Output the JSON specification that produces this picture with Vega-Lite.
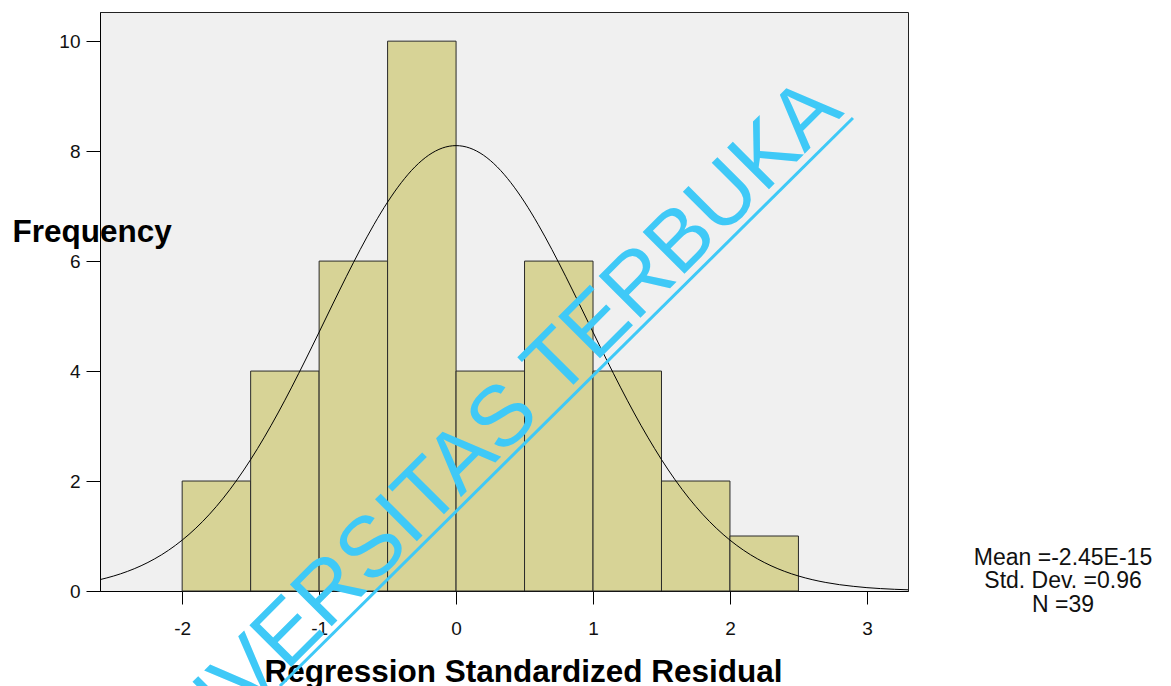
{
  "$schema": "https://vega.github.io/schema/vega-lite/v6.json",
  "width": 808,
  "height": 579,
  "autosize": "none",
  "padding": {"left": 100, "top": 12, "right": 263, "bottom": 95},
  "background": "white",
  "config": {
    "font": "Liberation Sans",
    "view": {"fill": "#F0F0F0", "stroke": "#222222", "strokeWidth": 1}
  },
  "datasets": {
    "bins": [
      {"bin_start": -2.0, "bin_end": -1.5, "count": 2},
      {"bin_start": -1.5, "bin_end": -1.0, "count": 4},
      {"bin_start": -1.0, "bin_end": -0.5, "count": 6},
      {"bin_start": -0.5, "bin_end": 0.0, "count": 10},
      {"bin_start": 0.0, "bin_end": 0.5, "count": 4},
      {"bin_start": 0.5, "bin_end": 1.0, "count": 6},
      {"bin_start": 1.0, "bin_end": 1.5, "count": 4},
      {"bin_start": 1.5, "bin_end": 2.0, "count": 2},
      {"bin_start": 2.0, "bin_end": 2.5, "count": 1}
    ],
    "curve": [
      {"residual": -2.6, "freq": 0.207}, {"residual": -2.5, "freq": 0.273}, {"residual": -2.4, "freq": 0.356},
      {"residual": -2.3, "freq": 0.459}, {"residual": -2.2, "freq": 0.586}, {"residual": -2.1, "freq": 0.740},
      {"residual": -2.0, "freq": 0.925}, {"residual": -1.9, "freq": 1.143}, {"residual": -1.8, "freq": 1.397},
      {"residual": -1.7, "freq": 1.689}, {"residual": -1.6, "freq": 2.020}, {"residual": -1.5, "freq": 2.390},
      {"residual": -1.4, "freq": 2.797}, {"residual": -1.3, "freq": 3.238}, {"residual": -1.2, "freq": 3.708},
      {"residual": -1.1, "freq": 4.201}, {"residual": -1.0, "freq": 4.708}, {"residual": -0.9, "freq": 5.220},
      {"residual": -0.8, "freq": 5.724}, {"residual": -0.7, "freq": 6.209}, {"residual": -0.6, "freq": 6.663},
      {"residual": -0.5, "freq": 7.073}, {"residual": -0.4, "freq": 7.426}, {"residual": -0.3, "freq": 7.714},
      {"residual": -0.2, "freq": 7.926}, {"residual": -0.1, "freq": 8.056}, {"residual": 0.0, "freq": 8.100},
      {"residual": 0.1, "freq": 8.056}, {"residual": 0.2, "freq": 7.926}, {"residual": 0.3, "freq": 7.714},
      {"residual": 0.4, "freq": 7.426}, {"residual": 0.5, "freq": 7.073}, {"residual": 0.6, "freq": 6.663},
      {"residual": 0.7, "freq": 6.209}, {"residual": 0.8, "freq": 5.724}, {"residual": 0.9, "freq": 5.220},
      {"residual": 1.0, "freq": 4.708}, {"residual": 1.1, "freq": 4.201}, {"residual": 1.2, "freq": 3.708},
      {"residual": 1.3, "freq": 3.238}, {"residual": 1.4, "freq": 2.797}, {"residual": 1.5, "freq": 2.390},
      {"residual": 1.6, "freq": 2.020}, {"residual": 1.7, "freq": 1.689}, {"residual": 1.8, "freq": 1.397},
      {"residual": 1.9, "freq": 1.143}, {"residual": 2.0, "freq": 0.925}, {"residual": 2.1, "freq": 0.740},
      {"residual": 2.2, "freq": 0.586}, {"residual": 2.3, "freq": 0.459}, {"residual": 2.4, "freq": 0.356},
      {"residual": 2.5, "freq": 0.273}, {"residual": 2.6, "freq": 0.207}, {"residual": 2.7, "freq": 0.155},
      {"residual": 2.8, "freq": 0.115}, {"residual": 2.9, "freq": 0.085}, {"residual": 3.0, "freq": 0.061},
      {"residual": 3.1, "freq": 0.044}, {"residual": 3.2, "freq": 0.031}, {"residual": 3.3, "freq": 0.022}
    ],
    "note": [{}]
  },
  "layer": [
    {
      "data": {"name": "bins"},
      "mark": {"type": "bar", "orient": "vertical", "fill": "#D7D396", "stroke": "#2a2a2a", "strokeWidth": 1, "opacity": 1},
      "encoding": {
        "x": {
          "field": "bin_start", "type": "quantitative",
          "title": "Regression Standardized Residual",
          "scale": {"domain": [-2.6, 3.3], "nice": false, "zero": false, "padding": 0},
          "axis": {
            "values": [-2, -1, 0, 1, 2, 3], "grid": false,
            "labelExpr": "'' + datum.value",
            "domainColor": "#000000", "tickColor": "#000000", "tickSize": 13,
            "labelFontSize": 19, "labelColor": "#111111", "labelPadding": 15, "labelFlush": false,
            "titleFontSize": 31.5, "titleFontWeight": "bold", "titleColor": "#000000",
            "titleAnchor": "start", "titleAlign": "center", "titleBaseline": "alphabetic",
            "titleX": 423, "titleY": 90
          }
        },
        "x2": {"field": "bin_end"},
        "y": {
          "field": "count", "type": "quantitative",
          "title": "Frequency",
          "scale": {"domain": [0, 10.53], "nice": false, "padding": 0},
          "axis": {
            "values": [0, 2, 4, 6, 8, 10], "grid": false,
            "labelExpr": "'' + datum.value",
            "domainColor": "#000000", "tickColor": "#000000", "tickSize": 14,
            "labelFontSize": 19, "labelColor": "#111111", "labelPadding": 6,
            "titleFontSize": 31.5, "titleFontWeight": "bold", "titleColor": "#000000",
            "titleAngle": 0, "titleAlign": "left", "titleBaseline": "alphabetic",
            "titleAnchor": "start", "titleX": -88, "titleY": 229
          }
        },
        "y2": {"datum": 0}
      }
    },
    {
      "data": {"name": "curve"},
      "mark": {"type": "line", "color": "#000000", "strokeWidth": 1, "interpolate": "monotone"},
      "encoding": {
        "x": {"field": "residual", "type": "quantitative", "title": "Regression Standardized Residual"},
        "y": {"field": "freq", "type": "quantitative", "title": "Frequency"}
      }
    },
    {
      "data": {"name": "note"},
      "mark": {"type": "text", "align": "center", "baseline": "alphabetic", "fontSize": 23, "lineHeight": 23.5, "color": "#111111"},
      "encoding": {
        "x": {"datum": 4.432, "type": "quantitative"},
        "y": {"datum": 0.473, "type": "quantitative"},
        "text": {"value": ["Mean =-2.45E-15", "Std. Dev. =0.96", "N =39"]}
      }
    },
    {
      "data": {"name": "note"},
      "mark": {"type": "text", "align": "right", "baseline": "alphabetic", "angle": -45, "fontSize": 86, "color": "#3FC9F7"},
      "encoding": {
        "x": {"datum": 2.84, "type": "quantitative"},
        "y": {"datum": 8.69, "type": "quantitative"},
        "text": {"value": "UNIVERSITAS TERBUKA"}
      }
    },
    {
      "data": {"name": "note"},
      "mark": {"type": "rule", "color": "#3FC9F7", "strokeWidth": 3},
      "encoding": {
        "x": {"datum": -1.286, "type": "quantitative"},
        "y": {"datum": -1.728, "type": "quantitative"},
        "x2": {"datum": 2.898},
        "y2": {"datum": 8.602}
      }
    }
  ]
}
